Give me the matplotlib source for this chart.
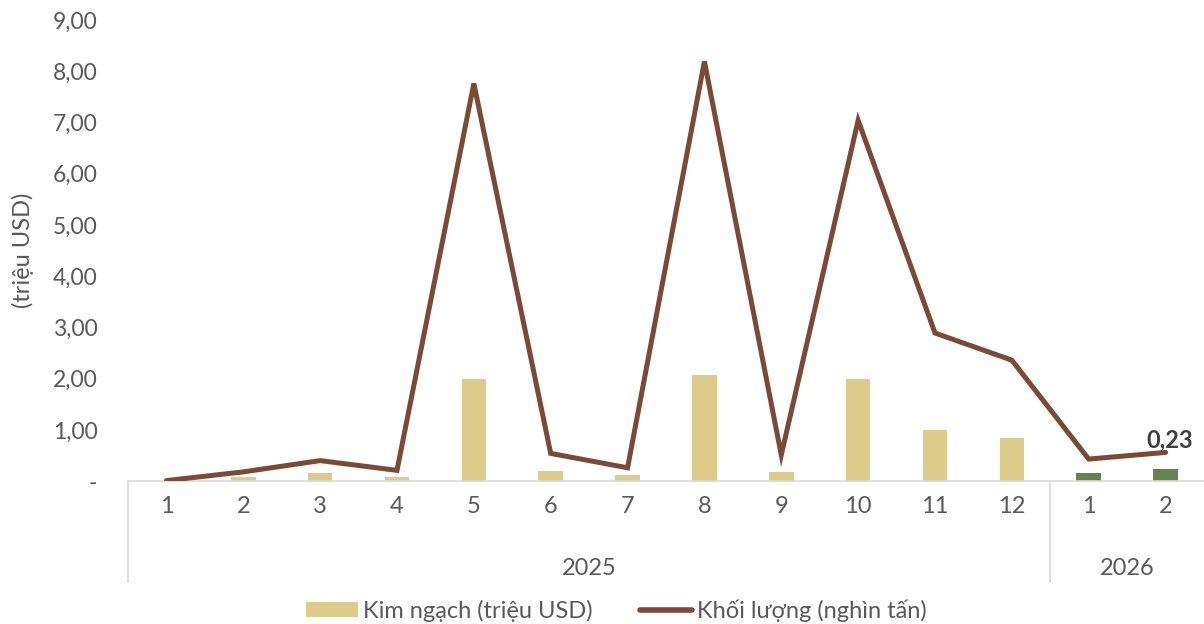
import numpy as np
import matplotlib.pyplot as plt
from matplotlib.lines import Line2D
from matplotlib.patches import Patch
import matplotlib.transforms as mtransforms

plt.rcParams["font.family"] = ["Lato", "DejaVu Sans"]

months = ["1", "2", "3", "4", "5", "6", "7", "8", "9", "10", "11", "12", "1", "2"]
years = ["2025", "2026"]
year_sizes = [12, 2]

kim_ngach = [0.01, 0.08, 0.16, 0.08, 2.00, 0.19, 0.12, 2.07, 0.18, 1.99, 0.99, 0.84, 0.16, 0.23]
khoi_luong = [0.01, 0.18, 0.40, 0.21, 7.76, 0.54, 0.26, 8.19, 0.51, 7.04, 2.89, 2.36, 0.43, 0.56]

BAR_COLOR = "#DCCB8A"
BAR_COLOR_NEW = "#63834F"
LINE_COLOR = "#7B4A35"
TEXT_COLOR = "#595959"
AXIS_COLOR = "#D9D9D9"

fig = plt.figure(figsize=(12.04, 6.24), dpi=100)
ax = fig.add_axes([0.1063, 0.229, 0.8937, 0.739])

x = np.arange(len(months))
colors = [BAR_COLOR] * year_sizes[0] + [BAR_COLOR_NEW] * year_sizes[1]
ax.bar(x, kim_ngach, width=0.32, color=colors, zorder=2)
ax.plot(x, khoi_luong, color=LINE_COLOR, lw=3.6, solid_capstyle="round",
        solid_joinstyle="miter", zorder=3)

ax.annotate(f"{kim_ngach[-1]:.2f}".replace(".", ","), xy=(x[-1], kim_ngach[-1]),
            xytext=(3, 13), textcoords="offset points", ha="center", va="bottom",
            fontsize=17, fontweight="bold", color="#404040", zorder=4)

ax.set_xlim(-0.5, len(months) - 0.5)
ax.set_ylim(0, 9)
ax.set_yticks(np.arange(0, 10, 1))
ax.set_yticklabels(["-"] + [f"{v},00" for v in range(1, 10)])
ax.set_xticks(x)
ax.set_xticklabels(months)
ax.tick_params(axis="both", length=0, colors=TEXT_COLOR)
ax.tick_params(axis="x", pad=11, labelsize=17)
ax.tick_params(axis="y", pad=22, labelsize=16.5)

for side in ["top", "right", "left"]:
    ax.spines[side].set_visible(False)
ax.spines["bottom"].set_color(AXIS_COLOR)
ax.spines["bottom"].set_linewidth(1.2)

ax.set_ylabel("(triệu USD)", fontsize=17, color=TEXT_COLOR, labelpad=13)

# second level of the category axis
trans = mtransforms.blended_transform_factory(ax.transData, ax.transAxes)
start = 0
bounds = [-0.5]
for year, size in zip(years, year_sizes):
    center = start + (size - 1) / 2
    ax.text(center, -0.189, year, transform=trans, ha="center", va="center",
            fontsize=17, color=TEXT_COLOR)
    start += size
    bounds.append(start - 0.5)
for b in bounds[:-1]:
    ax.plot([b, b], [0, -0.218], transform=trans, color=AXIS_COLOR, lw=1.2,
            clip_on=False)

handles = [
    Patch(facecolor=BAR_COLOR, edgecolor="none"),
    Line2D([0], [0], color=LINE_COLOR, lw=4, solid_capstyle="round"),
]
fig.legend(handles, ["Kim ngạch (triệu USD)", "Khối lượng (nghìn tấn)"],
           loc="center", bbox_to_anchor=(0.512, 0.022), ncol=2, frameon=False,
           fontsize=17, labelcolor=TEXT_COLOR, handlelength=2.2,
           handleheight=0.6, columnspacing=2.0, handletextpad=0.2,
           borderpad=0, borderaxespad=0)

fig.savefig("out.png", dpi=100)
